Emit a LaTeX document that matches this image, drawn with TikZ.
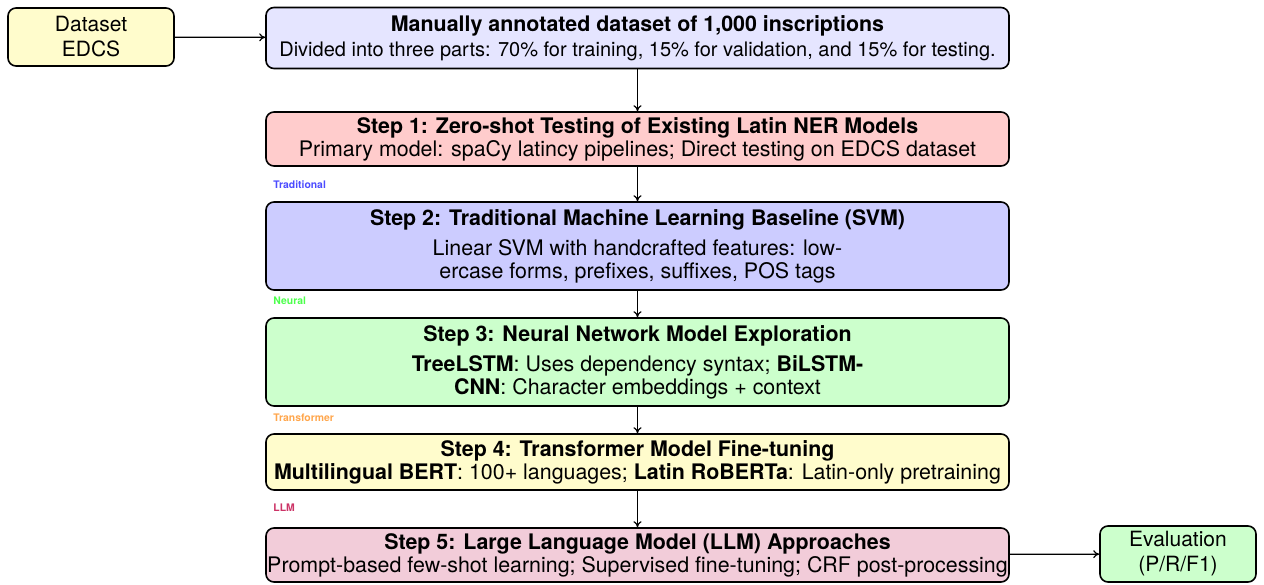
\documentclass[tikz,border=0pt]{standalone}
\usepackage{fontspec}
\setmainfont{TeX Gyre Heros}
\usetikzlibrary{arrows.meta}
\tikzset{
  box/.style={draw=black, line width=0.8pt, rounded corners=4pt, inner sep=0pt,
    align=center, font=\fontsize{10.7}{11.5}\selectfont},
  stepbox/.style={box, minimum width=371.5pt},
  tag/.style={anchor=west, inner sep=0pt, font=\fontsize{5.2}{6}\selectfont\bfseries},
  flow/.style={-{To[length=3pt,width=4pt]}, line width=0.6pt},
}
\begin{document}
\begin{tikzpicture}[x=0.5pt,y=-0.5pt]
\useasboundingbox (0,0) rectangle (1264,584);
% input and annotated dataset
\node[box, fill=yellow!20, minimum width=83pt, minimum height=29pt,
      font=\fontsize{10.5}{12.5}\selectfont] (ds) at (91,37) {Dataset\\EDCS};
\node[stepbox, fill=blue!10, minimum height=30.5pt] (top) at (637.5,38)
  {\textbf{Manually annotated dataset of 1,000 inscriptions}\\[1pt]
   {\fontsize{10}{11.5}\selectfont Divided into three parts: 70\% for training, 15\% for validation, and 15\% for testing.}};
% pipeline steps
\node[stepbox, fill=red!20, minimum height=27pt] (s1) at (637.5,139)
  {\textbf{Step 1: Zero-shot Testing of Existing Latin NER Models}\\
   Primary model: spaCy latincy pipelines; Direct testing on EDCS dataset};
\node[stepbox, fill=blue!20, minimum height=44pt] (s2) at (637.5,246)
  {\textbf{Step 2: Traditional Machine Learning Baseline (SVM)}\\[3.5pt]
   Linear SVM with handcrafted features: low-\\
   ercase forms, prefixes, suffixes, POS tags};
\node[stepbox, fill=green!20, minimum height=44pt] (s3) at (637.5,362)
  {\textbf{Step 3: Neural Network Model Exploration}\\[3.5pt]
   \textbf{TreeLSTM}: Uses dependency syntax; \textbf{BiLSTM-}\\
   \textbf{CNN}: Character embeddings + context};
\node[stepbox, fill=yellow!20, minimum height=28pt] (s4) at (637.5,462)
  {\textbf{Step 4: Transformer Model Fine-tuning}\\
   \textbf{Multilingual BERT}: 100+ languages; \textbf{Latin RoBERTa}: Latin-only pretraining};
\node[stepbox, fill=purple!20, minimum height=27pt] (s5) at (637.5,555)
  {\textbf{Step 5: Large Language Model (LLM) Approaches}\\
   Prompt-based few-shot learning; Supervised fine-tuning; CRF post-processing};
\node[box, fill=green!20, minimum width=78pt, minimum height=28pt,
      font=\fontsize{10.5}{12.5}\selectfont] (ev) at (1178,554) {Evaluation\\(P/R/F1)};
% stage tags
\node[tag, text=blue!70] (t1) at (273,185) {Traditional};
\node[tag, text=green!70] (t2) at (273,301) {Neural};
\node[tag, text=orange!70] (t3) at (273,418) {Transformer};
\node[tag, text=purple!80] (t4) at (273,508) {LLM};
% connectors
\draw[flow] (ds) -- (top);
\draw[flow] (top) -- (s1);
\draw[flow] (s1) -- (s2);
\draw[flow] (s2) -- (s3);
\draw[flow] (s3) -- (s4);
\draw[flow] (s4) -- (s5);
\draw[flow] (s5) -- (ev);
\end{tikzpicture}
\end{document}
